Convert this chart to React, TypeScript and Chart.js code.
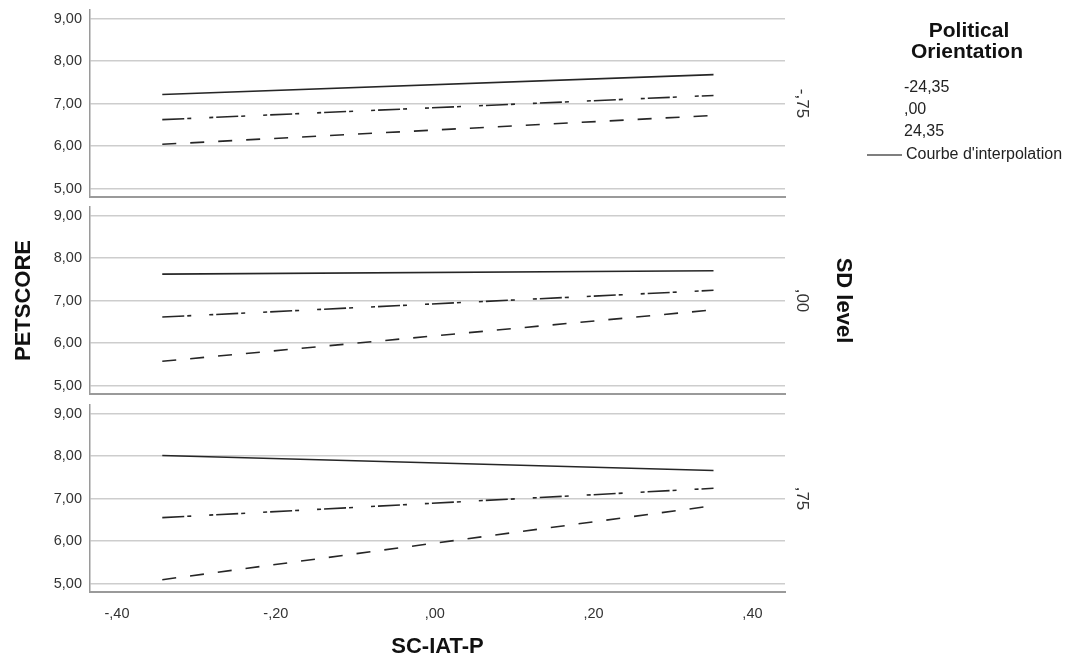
import React, { useEffect, useRef } from 'react';
import { Chart, registerables } from 'chart.js';

Chart.register(...registerables);

// ---------- data ----------
const X_POINTS = [-0.343, 0.351];
const X_TICKS = [-0.4, -0.2, 0, 0.2, 0.4];
const X_TICK_LABELS = ['-,40', '-,20', ',00', ',20', ',40'];
const Y_TICKS = [5, 6, 7, 8, 9];
const Y_TICK_LABELS = ['5,00', '6,00', '7,00', '8,00', '9,00'];
const SD_LEVELS = ['-,75', ',00', ',75'];
const LEGEND_TITLE = ['Political', 'Orientation'];
const ORIENTATION_LABELS = ['-24,35', ',00', '24,35'];
const FIT_LABEL = "Courbe d'interpolation";
const X_TITLE = 'SC-IAT-P';
const Y_TITLE = 'PETSCORE';
const PANEL_TITLE = 'SD level';

// one row per SD level panel: [value at left end, value at right end]
const SOLID_VALUES = [
  [7.21, 7.68],
  [7.62, 7.7],
  [8.01, 7.66],
];
const DASHDOT_VALUES = [
  [6.62, 7.19],
  [6.61, 7.24],
  [6.55, 7.24],
];
const DASHED_VALUES = [
  [6.04, 6.72],
  [5.57, 6.78],
  [5.09, 6.83],
];

// ---------- layout / style ----------
const FONT = '"Liberation Sans", Arial, sans-serif';
const W = 1076;
const CANVAS_TOPS = [-10, 187, 385];
const CANVAS_HEIGHTS = [227, 227, 275];
const PAD_TOP = 20;
const LEFT_AXIS_W = 90;
const RIGHT_LABEL_W = 30;
const RIGHT_TITLE_W = 42;
const PLOT_RIGHT = 785;
const LINE_COLOR = '#262626';
const GRID_COLOR = '#cdcdcd';
const AXIS_COLOR = '#9a9a9a';
const TEXT_COLOR = '#333333';

const legendPlugin = {
  id: 'orientationLegend',
  afterDraw(chart: any) {
    const ctx = chart.ctx as CanvasRenderingContext2D;
    const dy = -CANVAS_TOPS[0];
    ctx.save();
    ctx.fillStyle = '#111';
    ctx.textBaseline = 'middle';
    ctx.textAlign = 'center';
    ctx.font = `bold 21px ${FONT}`;
    ctx.fillText(LEGEND_TITLE[0], 969, 31 + dy);
    ctx.fillText(LEGEND_TITLE[1], 967, 52 + dy);
    ctx.textAlign = 'left';
    ctx.font = `16px ${FONT}`;
    ctx.fillStyle = '#222';
    ORIENTATION_LABELS.forEach((t, k) => ctx.fillText(t, 904, 88 + k * 22 + dy));
    ctx.fillText(FIT_LABEL, 906, 155 + dy);
    ctx.strokeStyle = '#555';
    ctx.lineWidth = 1.5;
    ctx.beginPath();
    ctx.moveTo(867, 155 + dy);
    ctx.lineTo(902, 155 + dy);
    ctx.stroke();
    ctx.restore();
  },
};

function makeConfig(i: number): any {
  const isMid = i === 1;
  const isBottom = i === 2;
  const ds = (vals: number[][], dash: number[]) => ({
    data: X_POINTS.map((x, k) => ({ x, y: vals[i][k] })),
    borderColor: LINE_COLOR,
    borderWidth: 1.6,
    borderDash: dash,
    borderCapStyle: 'butt',
    pointRadius: 0,
    fill: false,
    tension: 0,
  });
  const xAxisH = isBottom ? CANVAS_HEIGHTS[i] - PAD_TOP - 187 : 0;
  const padBottom = isBottom ? 0 : CANVAS_HEIGHTS[i] - PAD_TOP - 187;
  return {
    type: 'line',
    data: {
      datasets: [
        ds(SOLID_VALUES, []),
        ds(DASHDOT_VALUES, [22, 3, 4, 18, 4, 3]),
        ds(DASHED_VALUES, [14, 14]),
      ],
    },
    options: {
      responsive: false,
      animation: false,
      events: [],
      layout: {
        padding: {
          top: PAD_TOP,
          bottom: padBottom,
          left: 0,
          right: W - PLOT_RIGHT - RIGHT_LABEL_W - RIGHT_TITLE_W,
        },
      },
      plugins: { legend: { display: false }, tooltip: { enabled: false } },
      scales: {
        x: {
          type: 'linear',
          position: 'bottom',
          min: -0.434,
          max: 0.441,
          afterBuildTicks: (s: any) => {
            s.ticks = X_TICKS.map((v) => ({ value: v }));
          },
          ticks: {
            display: isBottom,
            autoSkip: false,
            maxRotation: 0,
            padding: 5,
            color: TEXT_COLOR,
            font: { family: FONT, size: 14.5 },
            callback: (_v: any, idx: number) => X_TICK_LABELS[idx],
          },
          grid: { display: false },
          border: { display: true, color: AXIS_COLOR, width: 2 },
          title: {
            display: isBottom,
            text: X_TITLE,
            color: '#111',
            font: { family: FONT, size: 22, weight: 'bold' },
            padding: { top: 0, bottom: 0 },
          },
          afterFit: (s: any) => {
            s.height = xAxisH;
          },
        },
        y: {
          type: 'linear',
          position: 'left',
          min: 4.8,
          max: 9.2,
          afterBuildTicks: (s: any) => {
            s.ticks = Y_TICKS.map((v) => ({ value: v }));
          },
          ticks: {
            padding: 8,
            color: TEXT_COLOR,
            font: { family: FONT, size: 14.5 },
            callback: (_v: any, idx: number) => Y_TICK_LABELS[idx],
          },
          grid: { color: GRID_COLOR, lineWidth: 1.5, drawTicks: false },
          border: { display: true, color: AXIS_COLOR, width: 1.5 },
          title: {
            display: isMid,
            text: Y_TITLE,
            color: '#111',
            font: { family: FONT, size: 22, weight: 'bold' },
            padding: { top: 11, bottom: 0 },
          },
          afterFit: (s: any) => {
            s.width = LEFT_AXIS_W;
          },
        },
        sd: {
          type: 'linear',
          position: 'right',
          weight: 0,
          ticks: { display: false },
          grid: { display: false },
          border: { display: false },
          title: {
            display: true,
            text: SD_LEVELS[i],
            color: TEXT_COLOR,
            font: { family: FONT, size: 17 },
            padding: { top: 3, bottom: 0 },
          },
          afterFit: (s: any) => {
            s.width = RIGHT_LABEL_W;
          },
        },
        sdTitle: {
          type: 'linear',
          position: 'right',
          weight: 1,
          ticks: { display: false },
          grid: { display: false },
          border: { display: false },
          title: {
            display: isMid,
            text: PANEL_TITLE,
            color: '#111',
            font: { family: FONT, size: 22, weight: 'bold' },
            padding: { top: 1, bottom: 0 },
          },
          afterFit: (s: any) => {
            s.width = RIGHT_TITLE_W;
          },
        },
      },
    },
    plugins: i === 0 ? [legendPlugin] : [],
  };
}

function Panel({ index }: { index: number }) {
  const ref = useRef<HTMLCanvasElement | null>(null);
  useEffect(() => {
    if (!ref.current) return;
    const chart = new Chart(ref.current, makeConfig(index));
    return () => chart.destroy();
  }, [index]);
  return (
    <canvas
      ref={ref}
      width={W}
      height={CANVAS_HEIGHTS[index]}
      style={{
        position: 'absolute',
        left: 0,
        top: CANVAS_TOPS[index],
        width: W,
        height: CANVAS_HEIGHTS[index],
      }}
    />
  );
}

export default function App() {
  useEffect(() => {
    document.body.style.margin = '0';
    document.body.style.background = '#ffffff';
  }, []);
  return (
    <div
      style={{
        position: 'relative',
        width: W,
        height: 660,
        overflow: 'hidden',
        background: '#ffffff',
      }}
    >
      {[0, 1, 2].map((i) => (
        <Panel key={i} index={i} />
      ))}
    </div>
  );
}
